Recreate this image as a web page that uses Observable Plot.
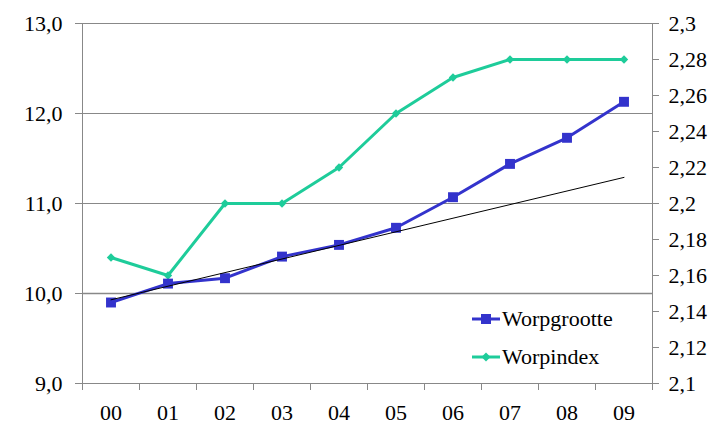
<!DOCTYPE html>
<html><head><meta charset="utf-8">
<script src="https://cdn.jsdelivr.net/npm/d3@7"></script>
<script src="https://cdn.jsdelivr.net/npm/@observablehq/plot@0.6"></script>
<style>
body{margin:0;background:#fff;}
#wrap{position:relative;width:713px;height:426px;font-family:"Liberation Serif","Noto Serif","DejaVu Serif","FreeSerif","Times New Roman",Times,serif;}
#wrap svg text{font-family:"Liberation Serif","Noto Serif","DejaVu Serif","FreeSerif","Times New Roman",Times,serif !important;}
.leg{position:absolute;left:472px;height:22px;display:flex;align-items:center;font-size:22px;color:#000;white-space:nowrap;}
.leg svg{margin-right:2px;}
</style></head><body><div id="wrap"></div>
<script>
// data
const years = ["00","01","02","03","04","05","06","07","08","09"];
const worpgrootte = [9.90, 10.11, 10.17, 10.41, 10.54, 10.73, 11.07, 11.44, 11.73, 12.13];
const worpindex = [2.17, 2.16, 2.20, 2.20, 2.22, 2.25, 2.27, 2.28, 2.28, 2.28];
const trendIdx = [0, 9];
const trendValues = [9.93, 11.29];
const leftTicks = [9, 10, 11, 12, 13];
const rightTicks = [2.1, 2.12, 2.14, 2.16, 2.18, 2.2, 2.22, 2.24, 2.26, 2.28, 2.3];
const seriesNames = ["Worpgrootte", "Worpindex"];
const colors = ["#3333CC", "#1ECC9A"];

// right axis (2.1..2.3) mapped onto left axis (9..13)
const toLeft = v => 9 + (v - 2.1) * 20;
const fromLeft = d => 2.1 + (d - 9) / 20;
const fmtLeft = d => d.toFixed(1).replace(".", ",");
const fmtRight = d => String(+fromLeft(d).toFixed(2)).replace(".", ",");

const gData = years.map((y, i) => ({i, v: worpgrootte[i]}));
const iData = years.map((y, i) => ({i, v: toLeft(worpindex[i])}));
const tData = trendIdx.map((i, k) => ({i, v: trendValues[k]}));
const boundaries = d3.range(years.length + 1).map(k => k - 0.5);

const gray = "#888";
const font = "'Liberation Serif','Noto Serif','DejaVu Serif','FreeSerif','Times New Roman',Times,serif";
const chart = Plot.plot({
  width: 713, height: 426,
  marginLeft: 82, marginRight: 61, marginTop: 23, marginBottom: 43,
  style: {fontFamily: font, fontSize: "22px", background: "white", color: "black", overflow: "visible"},
  x: {type: "linear", domain: [-0.5, years.length - 0.5], axis: null},
  y: {type: "linear", domain: [9, 13], axis: null},
  marks: [
    Plot.ruleY([11, 12, 13], {stroke: gray, strokeWidth: 1}),
    Plot.ruleY([10], {stroke: gray, strokeWidth: 1.6}),
    Plot.ruleY([9], {stroke: gray, strokeWidth: 1}),
    Plot.ruleX([-0.5, years.length - 0.5], {stroke: gray, strokeWidth: 1}),
    Plot.axisY(leftTicks, {anchor: "left", tickSize: 7, tickPadding: 13, stroke: gray, color: "black", tickFormat: fmtLeft, fontSize: 22, fontFamily: font, label: null}),
    Plot.axisY(rightTicks.map(toLeft), {anchor: "right", tickSize: 6, tickPadding: 10, stroke: gray, color: "black", tickFormat: fmtRight, fontSize: 22, fontFamily: font, label: null}),
    Plot.axisX(boundaries, {anchor: "bottom", tickSize: 7, stroke: gray, tickFormat: () => "", label: null}),
    Plot.axisX(d3.range(years.length), {anchor: "bottom", tickSize: 0, tickPadding: 21, color: "black", tickFormat: i => years[i], fontSize: 22, fontFamily: font, label: null}),
    Plot.line(iData, {x: "i", y: "v", stroke: colors[1], strokeWidth: 3}),
    Plot.dot(iData, {x: "i", y: "v", symbol: "diamond2", r: 3.8, fill: colors[1]}),
    Plot.line(gData, {x: "i", y: "v", stroke: colors[0], strokeWidth: 3}),
    Plot.dot(gData, {x: "i", y: "v", symbol: "square", r: 5.6, fill: colors[0]}),
    Plot.line(tData, {x: "i", y: "v", stroke: "black", strokeWidth: 1})
  ]
});
const wrap = document.getElementById("wrap");
wrap.appendChild(chart);

// legend
const legTops = [308, 346];
seriesNames.forEach((name, k) => {
  const div = document.createElement("div");
  div.className = "leg";
  div.style.top = legTops[k] + "px";
  const marker = k === 0
    ? `<rect x="9" y="6" width="10" height="10" fill="${colors[0]}"/>`
    : `<path d="M14,6.5 L18.5,11 L14,15.5 L9.5,11 Z" fill="${colors[1]}"/>`;
  div.innerHTML = `<svg width="28" height="22"><line x1="0" x2="28" y1="11" y2="11" stroke="${colors[k]}" stroke-width="3"/>${marker}</svg><span>${name}</span>`;
  wrap.appendChild(div);
});
</script></body></html>
